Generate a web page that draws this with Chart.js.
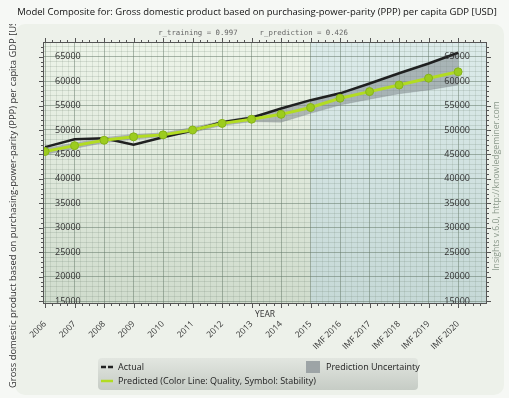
<!DOCTYPE html>
<html>
<head>
<meta charset="utf-8">
<script src="https://cdn.jsdelivr.net/npm/chart.js@4"></script>
<style>
  html, body { margin: 0; padding: 0; background: #f6f8f5; }
  #wrap { width: 509px; height: 398px; }
</style>
</head>
<body>
<div id="wrap"><canvas id="chart" width="509" height="398"></canvas></div>
<script>
const years = ["2006", "2007", "2008", "2009", "2010", "2011", "2012", "2013", "2014", "2015",
  "IMF 2016", "IMF 2017", "IMF 2018", "IMF 2019", "IMF 2020"];
const actual = [46500, 48100, 48300, 47000, 48500, 49900, 51600, 52500, 54400, 56100, 57500, 59500, 61600, 63600, 65800];
const predicted = [45600, 46800, 47900, 48600, 49000, 50000, 51350, 52200, 53200, 54600, 56500, 57850, 59200, 60600, 61900];
const bandUpper = [46300, 47400, 48500, 49200, 49500, 50600, 51900, 52900, 54300, 56100, 57500, 59500, 61600, 63600, 65800];
const bandLower = [45000, 46200, 47400, 48100, 48600, 49500, 50900, 51700, 51600, 53400, 55100, 56300, 57400, 58200, 59200];
const yTicks = [15000, 20000, 25000, 30000, 35000, 40000, 45000, 50000, 55000, 60000, 65000];
const firstForecast = 9; // 2015 starts the prediction period

const title = "Model Composite for: Gross domestic product based on purchasing-power-parity (PPP) per capita GDP [USD]";
const subtitle = "r_training = 0.997     r_prediction = 0.426";
const yTitle = "Gross domestic product based on purchasing-power-parity (PPP) per capita GDP [USD]";
const credit = "Insights v.6.0, http://knowledgeminer.com";

const toPts = arr => arr.map((v, i) => ({ x: i, y: v }));

// pick a font size so the text spans a given width
function fitFont(ctx, text, family, width) {
  ctx.font = "20px " + family;
  const size = 20 * width / ctx.measureText(text).width;
  return size.toFixed(2) + "px " + family;
}

const decor = {
  id: "decor",
  beforeDraw(chart) {
    const { ctx, chartArea: a, scales } = chart;
    ctx.save();
    // panel
    ctx.fillStyle = "#edf1ea";
    ctx.beginPath();
    ctx.roundRect(15, 24, 489, 371, 10);
    ctx.fill();
    // title
    ctx.fillStyle = "#111";
    ctx.font = fitFont(ctx, title, "'Open Sans'", 480);
    ctx.textAlign = "center";
    ctx.textBaseline = "middle";
    ctx.fillText(title, 257, 12);
    ctx.fillStyle = "#666";
    ctx.font = fitFont(ctx, subtitle, "'DejaVu Sans Mono'", 190);
    ctx.fillText(subtitle, 253, 33);
    // plot backgrounds
    const xs = scales.x.getPixelForValue(firstForecast);
    let g = ctx.createLinearGradient(0, a.top, 0, a.bottom);
    g.addColorStop(0, "#edf4e9");
    g.addColorStop(1, "#d0dccd");
    ctx.fillStyle = g;
    ctx.fillRect(a.left, a.top, xs - a.left, a.bottom - a.top);
    g = ctx.createLinearGradient(0, a.top, 0, a.bottom);
    g.addColorStop(0, "#dcebea");
    g.addColorStop(1, "#c6d9d7");
    ctx.fillStyle = g;
    ctx.fillRect(xs, a.top, a.right - xs, a.bottom - a.top);
    // y title, clipped by the panel top
    ctx.save();
    ctx.beginPath();
    ctx.rect(0, 24, 40, 374);
    ctx.clip();
    ctx.translate(13, 388);
    ctx.rotate(-Math.PI / 2);
    ctx.fillStyle = "#333";
    ctx.font = fitFont(ctx, yTitle, "'Open Sans'", 378);
    ctx.textAlign = "left";
    ctx.fillText(yTitle, 0, 0);
    ctx.restore();
    // credit
    ctx.save();
    ctx.translate(497, 186);
    ctx.rotate(-Math.PI / 2);
    ctx.fillStyle = "#8b998b";
    ctx.font = fitFont(ctx, credit, "'Open Sans'", 170);
    ctx.textAlign = "center";
    ctx.fillText(credit, 0, 0);
    ctx.restore();
    ctx.restore();
  },
  afterDraw(chart) {
    const { ctx, chartArea: a, scales } = chart;
    ctx.save();
    // frame and tick marks
    ctx.strokeStyle = "#555";
    ctx.lineWidth = 1;
    ctx.strokeRect(a.left + 0.5, a.top + 0.5, a.right - a.left - 1, a.bottom - a.top - 1);
    ctx.beginPath();
    for (let v = 15000; v <= 67000; v += 1000) {
      const y = Math.round(scales.y.getPixelForValue(v)) + 0.5;
      const len = v % 5000 === 0 ? 4 : 2;
      ctx.moveTo(a.left - len, y); ctx.lineTo(a.left, y);
      ctx.moveTo(a.right, y); ctx.lineTo(a.right + len, y);
    }
    for (let v = 0; v <= 14.9; v += 0.25) {
      const x = Math.round(scales.x.getPixelForValue(v)) + 0.5;
      const len = Math.abs(v - Math.round(v)) < 0.01 ? 4 : 2;
      ctx.moveTo(x, a.bottom); ctx.lineTo(x, a.bottom + len);
      ctx.moveTo(x, a.top - len); ctx.lineTo(x, a.top);
    }
    ctx.stroke();
    // x title
    ctx.fillStyle = "#333";
    ctx.font = "8.5px 'Open Sans'";
    ctx.textAlign = "center";
    ctx.textBaseline = "middle";
    ctx.fillText("YEAR", (a.left + a.right) / 2, a.bottom + 11);
    // legend
    const lx = 98, ly = 358, lw = 320, lh = 32;
    const lg = ctx.createLinearGradient(0, ly, 0, ly + lh);
    lg.addColorStop(0, "#e2e6e0");
    lg.addColorStop(1, "#c6ccc5");
    ctx.fillStyle = lg;
    ctx.beginPath();
    ctx.roundRect(lx, ly, lw, lh, 4);
    ctx.fill();
    ctx.lineCap = "butt";
    ctx.strokeStyle = "#222";
    ctx.lineWidth = 2.5;
    ctx.beginPath();
    ctx.moveTo(lx + 3, ly + 9); ctx.lineTo(lx + 8, ly + 9);
    ctx.moveTo(lx + 10, ly + 9); ctx.lineTo(lx + 15, ly + 9);
    ctx.stroke();
    ctx.strokeStyle = "#b2dc22";
    ctx.beginPath();
    ctx.moveTo(lx + 3, ly + 23); ctx.lineTo(lx + 15, ly + 23);
    ctx.stroke();
    ctx.fillStyle = "#9da4a6";
    ctx.fillRect(lx + 208, ly + 3, 14, 12);
    ctx.fillStyle = "#222";
    ctx.font = "9px 'Open Sans'";
    ctx.textAlign = "left";
    ctx.fillText("Actual", lx + 20, ly + 9);
    ctx.fillText("Predicted (Color Line: Quality, Symbol: Stability)", lx + 20, ly + 23);
    ctx.fillText("Prediction Uncertainty", lx + 228, ly + 9);
    ctx.restore();
  }
};

const tickFont = { family: "Open Sans", size: 9 };
const plain = v => String(v);

new Chart(document.getElementById("chart"), {
  type: "line",
  data: {
    datasets: [
      {
        label: "Predicted",
        data: toPts(predicted),
        borderColor: "#b2dc22",
        borderWidth: 3,
        pointRadius: 4,
        pointBackgroundColor: "#9ccc1e",
        pointBorderColor: "#86b41a",
        pointBorderWidth: 1,
        tension: 0,
        fill: false
      },
      {
        label: "Actual",
        data: toPts(actual),
        borderColor: "#1f2020",
        borderWidth: 2.5,
        pointRadius: 0,
        tension: 0,
        fill: false
      },
      {
        label: "Upper",
        data: toPts(bandUpper),
        borderColor: "rgba(0,0,0,0)",
        borderWidth: 0,
        pointRadius: 0,
        fill: false
      },
      {
        label: "Prediction Uncertainty",
        data: toPts(bandLower),
        borderColor: "rgba(120,128,132,0.5)",
        borderWidth: 0.5,
        pointRadius: 0,
        backgroundColor: "rgba(128,136,140,0.55)",
        fill: "-1"
      }
    ]
  },
  options: {
    responsive: false,
    animation: false,
    layout: { padding: { left: 43, right: 22, top: 42, bottom: 0 } },
    plugins: { legend: { display: false }, tooltip: { enabled: false } },
    scales: {
      x: {
        type: "linear",
        min: -0.07,
        max: 14.98,
        afterBuildTicks: s => { s.ticks = years.map((_, i) => ({ value: i })); },
        afterFit: s => { s.height = 94; },
        ticks: {
          callback: v => years[v] ?? "",
          minRotation: 45,
          maxRotation: 45,
          padding: 15,
          color: "#333",
          font: { family: "Open Sans", size: 8.5 }
        },
        grid: { color: "rgba(95,115,100,0.4)", drawTicks: false },
        border: { display: false }
      },
      x2: {
        type: "linear",
        min: -0.07,
        max: 14.98,
        display: true,
        afterBuildTicks: s => {
          const t = [];
          for (let v = 0; v <= 14.9; v += 0.2) t.push({ value: v });
          s.ticks = t;
        },
        afterFit: s => { s.height = 0; },
        ticks: { display: false },
        grid: { color: "rgba(110,130,115,0.16)", drawTicks: false },
        border: { display: false }
      },
      y: {
        min: 14400,
        max: 68000,
        afterBuildTicks: s => { s.ticks = yTicks.map(v => ({ value: v })); },
        afterFit: s => { s.width = 0; },
        ticks: { mirror: true, padding: 12, color: "#333", font: tickFont, z: 1, callback: plain },
        grid: { color: "rgba(95,115,100,0.4)", drawTicks: false },
        border: { display: false }
      },
      yr: {
        position: "right",
        min: 14400,
        max: 68000,
        afterBuildTicks: s => { s.ticks = yTicks.map(v => ({ value: v })); },
        afterFit: s => { s.width = 0; },
        ticks: { mirror: true, padding: -17, color: "#333", font: tickFont, z: 1, callback: plain },
        grid: { display: false, drawTicks: false },
        border: { display: false }
      },
      y2: {
        min: 14400,
        max: 68000,
        display: true,
        afterBuildTicks: s => {
          const t = [];
          for (let v = 15000; v <= 67000; v += 1000) t.push({ value: v });
          s.ticks = t;
        },
        afterFit: s => { s.width = 0; },
        ticks: { display: false },
        grid: { color: "rgba(110,130,115,0.2)", drawTicks: false },
        border: { display: false }
      }
    }
  },
  plugins: [decor]
});
</script>
</body>
</html>
